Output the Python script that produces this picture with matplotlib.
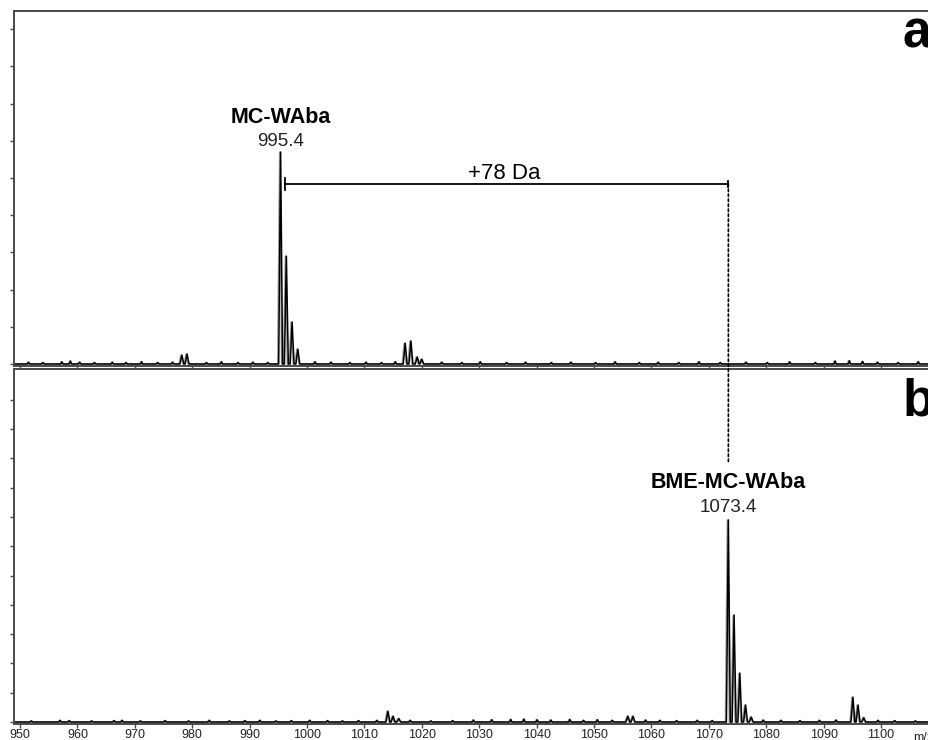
import matplotlib
matplotlib.use("Agg")
import matplotlib.pyplot as plt
from matplotlib.patches import ConnectionPatch

plt.rcParams['font.family'] = ['Liberation Sans', 'DejaVu Sans']

# peak lists: m/z centre and relative intensity
peaks_a_mz = [978.2, 979.1, 995.4, 996.4, 997.4, 998.4, 1017.1, 1018.1, 1019.2, 1020.0]
peaks_a_int = [2.4, 2.7, 57.0, 29.0, 11.3, 4.0, 5.6, 6.2, 1.9, 1.3]
peaks_b_mz = [1014.1, 1015.0, 1016.0, 1055.9, 1056.8, 1073.4, 1074.4, 1075.4, 1076.4, 1077.4,
              1095.1, 1096.0, 1097.0]
peaks_b_int = [3.7, 2.0, 1.2, 2.0, 2.0, 69.0, 36.5, 16.7, 5.8, 1.7, 8.5, 5.8, 1.5]

# small baseline blips
noise_a_mz = [951.5, 954.0, 957.3, 958.8, 960.4, 963.0, 966.1, 968.5, 971.2, 974.0, 976.6, 982.5,
              985.1, 988.0, 990.6, 993.2, 1001.4, 1004.2, 1007.5, 1010.3, 1013.0, 1015.4, 1023.5,
              1027.0, 1030.2, 1034.8, 1038.1, 1042.6, 1046.0, 1050.3, 1053.7, 1057.9, 1061.2,
              1064.8, 1068.3, 1072.0, 1076.5, 1080.2, 1084.1, 1088.6, 1092.0, 1094.5, 1096.8,
              1099.4, 1103.0, 1106.5]
noise_a_int = [0.5, 0.4, 0.6, 0.8, 0.5, 0.4, 0.5, 0.4, 0.6, 0.4, 0.5, 0.4,
               0.6, 0.4, 0.5, 0.4, 0.6, 0.5, 0.4, 0.5, 0.4, 0.6, 0.5,
               0.4, 0.6, 0.4, 0.5, 0.4, 0.5, 0.4, 0.6, 0.4, 0.5,
               0.4, 0.6, 0.4, 0.5, 0.4, 0.6, 0.4, 0.8, 0.9, 0.7,
               0.5, 0.4, 0.6]
noise_b_mz = [952.0, 957.0, 958.6, 962.5, 966.4, 967.8, 971.0, 975.3, 979.4, 983.0, 986.5, 989.2,
              991.8, 994.6, 997.3, 1000.5, 1003.6, 1006.2, 1009.0, 1012.2, 1018.0, 1021.6,
              1025.4, 1029.0, 1032.2, 1035.5, 1037.8, 1040.1, 1042.5, 1045.8, 1048.2, 1050.6,
              1053.2, 1059.0, 1061.5, 1064.4, 1068.0, 1070.6, 1079.5, 1082.6, 1085.9, 1089.3,
              1092.2, 1099.5, 1102.4, 1106.0]
noise_b_int = [0.4, 0.6, 0.5, 0.4, 0.5, 0.6, 0.4, 0.5, 0.4, 0.6, 0.4, 0.5,
               0.6, 0.4, 0.5, 0.6, 0.5, 0.4, 0.5, 0.6, 0.6, 0.4,
               0.5, 0.7, 0.8, 0.9, 1.0, 0.8, 0.7, 0.9, 0.6, 0.8,
               0.6, 0.7, 0.6, 0.5, 0.6, 0.5, 0.7, 0.6, 0.5, 0.6,
               0.7, 0.6, 0.5, 0.4]

x_ticks = [950, 960, 970, 980, 990, 1000, 1010, 1020, 1030, 1040, 1050, 1060, 1070, 1080, 1090, 1100]

xmin, xmax = 948.95, 1115.0


def make_trace(mz, inten, noise_mz, noise_int, w=0.34):
    # stick list -> triangle profile
    pts = [(c, h, w) for c, h in zip(mz, inten)] + [(c, h, 0.2) for c, h in zip(noise_mz, noise_int)]
    pts.sort()
    xs = [xmin]
    ys = [0]
    for c, h, hw in pts:
        xs += [c - hw, c, c + hw]
        ys += [0, h, 0]
    xs.append(xmax)
    ys.append(0)
    return xs, ys


fig = plt.figure(figsize=(9.29, 7.40), dpi=100)
ax1 = fig.add_axes([0.01507, 0.5054, 1.026, 0.4797])
ax2 = fig.add_axes([0.01507, 0.0216, 1.026, 0.4797])

spine_col = '#4a4a4a'
for ax in (ax1, ax2):
    ax.set_xlim(xmin, xmax)
    for s in ax.spines.values():
        s.set_color(spine_col)
        s.set_linewidth(1.4)
    ax.spines['right'].set_visible(False)
    ax.set_xticks(x_ticks)
    ax.tick_params(axis='both', direction='out', length=3, width=1, color=spine_col)

ax1.set_ylim(-0.54, 94.9)
ax2.set_ylim(-0.68, 120.5)
ax1.set_yticks(range(0, 100, 10))
ax2.set_yticks(range(0, 120, 10))
ax1.set_yticklabels([])
ax2.set_yticklabels([])
ax1.set_xticklabels([])
ax2.set_xticklabels([str(t) for t in x_ticks], fontsize=9, color='#222222')
ax2.tick_params(axis='x', pad=0.3)

xa, ya = make_trace(peaks_a_mz, peaks_a_int, noise_a_mz, noise_a_int)
xb, yb = make_trace(peaks_b_mz, peaks_b_int, noise_b_mz, noise_b_int)
ax1.plot([x - 0.18 for x in xa], ya, color='#9a9a9a', lw=1.0)
ax1.plot(xa, ya, color='black', lw=1.1)
ax2.plot([x - 0.18 for x in xb], yb, color='#9a9a9a', lw=1.0)
ax2.plot(xb, yb, color='black', lw=1.1)

# labels on the main peaks
ax1.text(995.4, 64.8, 'MC-WAba', ha='center', va='baseline', fontsize=15.5, fontweight='bold')
ax1.text(995.4, 58.6, '995.4', ha='center', va='baseline', fontsize=13.5, color='#222222')
ax2.text(1073.4, 79.9, 'BME-MC-WAba', ha='center', va='baseline', fontsize=15.5, fontweight='bold')
ax2.text(1073.4, 71.7, '1073.4', ha='center', va='baseline', fontsize=13.5, color='#222222')

# +78 Da bracket
ax1.plot([996.2, 1073.4], [48.4, 48.4], color='black', lw=1.3)
ax1.plot([996.2, 996.2], [46.8, 50.0], color='black', lw=1.3)
ax1.plot([1073.4, 1073.4], [47.6, 49.2], color='black', lw=1.3)
ax1.text(1034.4, 49.7, '+78 Da', ha='center', va='baseline', fontsize=16)
con = ConnectionPatch(xyA=(1073.4, 48.4), coordsA=ax1.transData,
                      xyB=(1073.4, 88.4), coordsB=ax2.transData,
                      color='black', lw=1.2, linestyle=(0, (1.5, 1.5)))
fig.add_artist(con)

# panel letters
ax1.text(1103.7, 85.2, 'a', ha='left', va='baseline', fontsize=37, fontweight='bold')
ax2.text(1103.7, 104.8, 'b', ha='left', va='baseline', fontsize=37, fontweight='bold')
ax2.text(1105.6, -5.6, 'm/z', ha='left', va='center', fontsize=9, color='#222222',
         clip_on=False)

fig.savefig('out.png', dpi=100)
